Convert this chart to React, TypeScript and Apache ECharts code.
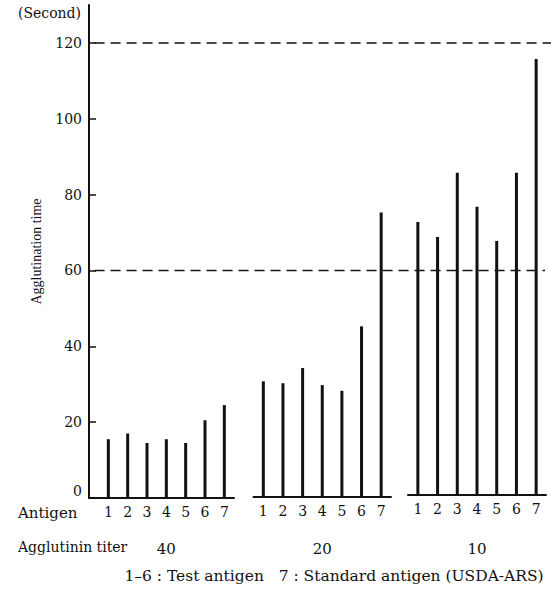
import React, { useEffect, useRef } from "react";
import * as echarts from "echarts";

const ANTIGENS = ["1", "2", "3", "4", "5", "6", "7"];
const TITERS = ["40", "20", "10"];
const TITER40_TIMES = [15.5, 17, 14.5, 15.5, 14.5, 20.5, 24.5];
const TITER20_TIMES = [30.5, 30, 34, 29.5, 28, 45, 75];
const TITER10_TIMES = [72, 68, 85, 76, 67, 85, 115];
const Y_TICKS = [0, 20, 40, 60, 80, 100, 120];
const REFERENCE_LINES = [120, 60];

const SERIF = "DejaVu Serif";
const INK = "#111";

export default function App() {
  const ref = useRef<HTMLDivElement>(null);

  useEffect(() => {
    if (!ref.current) return;
    const chart = echarts.init(ref.current, undefined, { renderer: "svg" });

    const numLabel = {
      color: INK,
      fontFamily: SERIF,
      fontSize: 14,
      margin: 7,
    };

    const catAxis = (gridIndex: number) => ({
      type: "category",
      gridIndex,
      data: ANTIGENS,
      boundaryGap: true,
      axisLine: { show: true, lineStyle: { color: INK, width: 2 } },
      axisTick: { show: false },
      axisLabel: { ...numLabel, interval: 0 },
      splitLine: { show: false },
    });
    const titerCatAxis = (gridIndex: number, titer: string, offset: number) => ({
      type: "category",
      gridIndex,
      data: ANTIGENS,
      position: "bottom",
      offset,
      axisLine: { show: false },
      axisTick: { show: false },
      axisLabel: {
        ...numLabel,
        fontSize: 15,
        interval: 0,
        formatter: (_v: string, i: number) => (i === 3 ? titer : ""),
      },
      splitLine: { show: false },
    });
    const hiddenY = (gridIndex: number) => ({
      type: "value",
      gridIndex,
      min: 0,
      max: 130,
      show: false,
      splitLine: { show: false },
    });

    const option: any = {
      animation: false,
      backgroundColor: "#fff",
      grid: [
        { left: 89, top: 5, width: 145, height: 493 },
        { left: 253.5, top: 4, width: 137.5, height: 493 },
        { left: 408, top: 2, width: 138, height: 493 },
        { left: 89, top: 5, width: 462, height: 493 },
      ],
      xAxis: [
        {
          type: "value",
          gridIndex: 0,
          min: 0,
          max: 7.5,
          interval: 1,
          axisLine: { show: true, onZero: false, lineStyle: { color: INK, width: 2 } },
          axisTick: { show: false },
          axisLabel: {
            ...numLabel,
            showMinLabel: true,
            showMaxLabel: true,
            formatter: (v: number) =>
              Number.isInteger(v) && v >= 1 && v <= 7 ? ANTIGENS[v - 1] : "",
          },
          splitLine: { show: false },
        },
        {
          type: "value",
          gridIndex: 0,
          min: 0,
          max: 7.5,
          interval: 1,
          position: "bottom",
          offset: 36,
          axisLine: { show: false },
          axisTick: { show: false },
          axisLabel: {
            ...numLabel,
            fontSize: 15,
            formatter: (v: number) => (v === 4 ? TITERS[0] : ""),
          },
          splitLine: { show: false },
        },
        catAxis(1),
        titerCatAxis(1, TITERS[1], 37),
        catAxis(2),
        titerCatAxis(2, TITERS[2], 39),
        { type: "value", gridIndex: 3, min: 0, max: 1, show: false },
      ],
      yAxis: [
        {
          type: "value",
          gridIndex: 0,
          min: 0,
          max: 130,
          axisLine: { show: true, onZero: false, lineStyle: { color: INK, width: 2 } },
          axisTick: {
            show: true,
            inside: true,
            length: 7,
            customValues: Y_TICKS.slice(1),
            lineStyle: { color: INK, width: 1.5 },
          },
          axisLabel: {
            ...numLabel,
            customValues: Y_TICKS,
            formatter: (v: number) => (v === 0 ? "{z|0}" : String(v)),
            rich: {
              z: {
                color: INK,
                fontFamily: SERIF,
                fontSize: 14,
                padding: [0, 0, 14, 0],
              },
            },
          },
          splitLine: { show: false },
          name: "Agglutination time",
          nameLocation: "middle",
          nameGap: 46,
          nameTextStyle: {
            color: INK,
            fontFamily: "Liberation Serif",
            fontSize: 14,
          },
        },
        hiddenY(1),
        hiddenY(2),
        hiddenY(3),
      ],
      series: [
        {
          type: "bar",
          xAxisIndex: 0,
          yAxisIndex: 0,
          barWidth: 3,
          itemStyle: { color: INK },
          data: TITER40_TIMES.map((t, i) => [i + 1, t]),
        },
        {
          type: "bar",
          xAxisIndex: 2,
          yAxisIndex: 1,
          barWidth: 3,
          itemStyle: { color: INK },
          data: TITER20_TIMES,
        },
        {
          type: "bar",
          xAxisIndex: 4,
          yAxisIndex: 2,
          barWidth: 3,
          itemStyle: { color: INK },
          data: TITER10_TIMES,
        },
        ...REFERENCE_LINES.map((v, i) => ({
          type: "line",
          xAxisIndex: 6,
          yAxisIndex: 3,
          showSymbol: false,
          silent: true,
          lineStyle: { color: INK, width: 1.5, type: [10, 6] },
          data: [
            [0.012, v],
            [i === 0 ? 1 : 0.987, v],
          ],
        })),
      ],
      graphic: [
        {
          type: "text",
          left: 18,
          top: 6,
          style: { text: "(Second)", fill: INK, font: `14px '${SERIF}'` },
        },
        {
          type: "text",
          left: 18,
          top: 505,
          style: { text: "Antigen", fill: INK, font: `15px '${SERIF}'` },
        },
        {
          type: "text",
          left: 18,
          top: 540,
          style: { text: "Agglutinin titer", fill: INK, font: `14px '${SERIF}'` },
        },
        {
          type: "text",
          x: 334,
          y: 576,
          style: {
            text: "1–6 : Test antigen   7 : Standard antigen (USDA-ARS)",
            fill: INK,
            font: `15.5px '${SERIF}'`,
            align: "center",
            verticalAlign: "middle",
          },
        },
      ],
    };

    chart.setOption(option);
    return () => chart.dispose();
  }, []);

  return (
    <div
      ref={ref}
      style={{
        position: "fixed",
        left: 0,
        top: 0,
        width: 551,
        height: 589,
        background: "#fff",
      }}
    />
  );
}
